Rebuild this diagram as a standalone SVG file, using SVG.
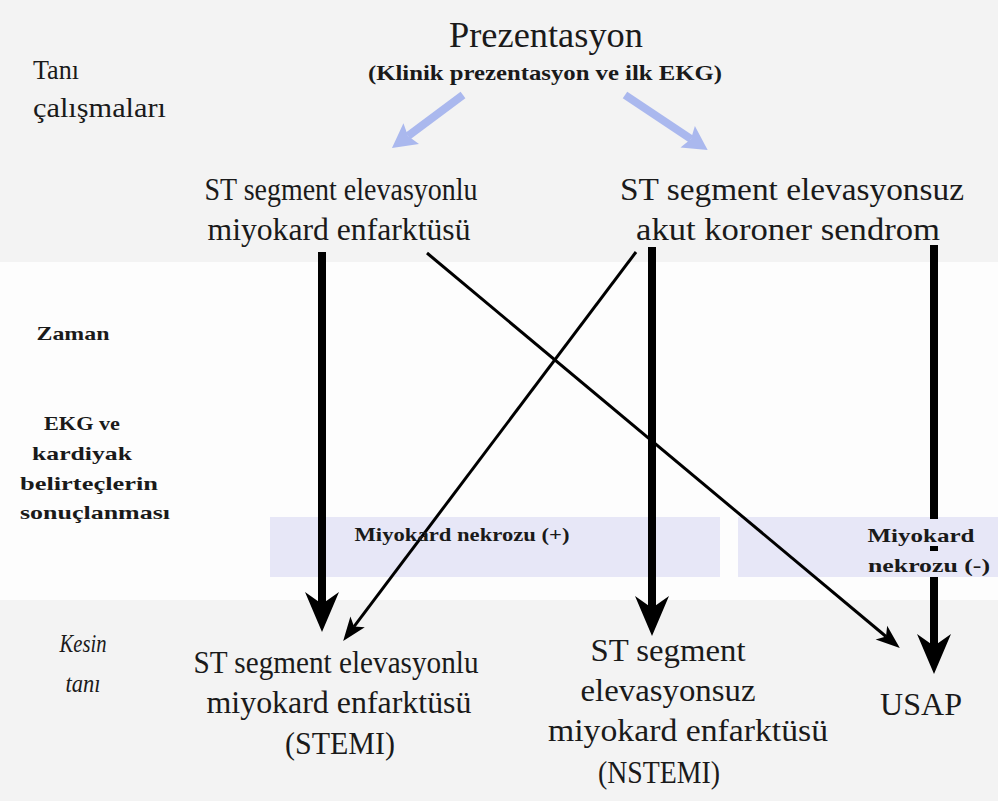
<svg xmlns="http://www.w3.org/2000/svg" width="998" height="801" viewBox="0 0 998 801">
<defs>
<style>
.t{font-family:"Liberation Serif","Times New Roman",serif;fill:#1a1a1a}
.b{font-weight:bold}
.i{font-style:italic}
.thick{stroke:#000;stroke-width:8;fill:none}
.thin{stroke:#000;stroke-width:3;fill:none}
.blue{stroke:#aab8ee;stroke-width:8;fill:none}
.band{fill:#e7e7f7}
</style>
<marker id="hThick" markerUnits="userSpaceOnUse" markerWidth="42" markerHeight="36" refX="12" refY="17" orient="auto" overflow="visible">
<path d="M0,0 L40,17 L0,34 L12,17 z" fill="#000"/>
</marker>
<marker id="hThin" markerUnits="userSpaceOnUse" markerWidth="26" markerHeight="20" refX="6" refY="9" orient="auto" overflow="visible">
<path d="M0,0 L24,9 L0,18 L6,9 z" fill="#000"/>
</marker>
<marker id="hBlue" markerUnits="userSpaceOnUse" markerWidth="26" markerHeight="28" refX="4" refY="13" orient="auto" overflow="visible">
<path d="M0,0 L24,13 L0,26 L4,13 z" fill="#aab8ee"/>
</marker>
</defs>
<rect x="0" y="0" width="998" height="801" fill="#f3f3f3"/>
<rect x="0" y="262" width="998" height="338" fill="#fdfdfd"/>
<rect class="band" x="270" y="517" width="450" height="60"/>
<rect class="band" x="738" y="517" width="260" height="60"/>

<g id="labels-left">
<text class="t" x="33" y="79" font-size="27" textLength="46" lengthAdjust="spacingAndGlyphs">Tanı</text>
<text class="t" x="33" y="117" font-size="27" textLength="133" lengthAdjust="spacingAndGlyphs">çalışmaları</text>
<text class="t b" x="73" y="340" font-size="19" text-anchor="middle" textLength="73" lengthAdjust="spacingAndGlyphs">Zaman</text>
<text class="t b" x="82" y="430" font-size="19" text-anchor="middle" textLength="76" lengthAdjust="spacingAndGlyphs">EKG ve</text>
<text class="t b" x="82" y="460" font-size="19" text-anchor="middle" textLength="100" lengthAdjust="spacingAndGlyphs">kardiyak</text>
<text class="t b" x="89" y="490" font-size="19" text-anchor="middle" textLength="138" lengthAdjust="spacingAndGlyphs">belirteçlerin</text>
<text class="t b" x="95" y="519" font-size="19" text-anchor="middle" textLength="150" lengthAdjust="spacingAndGlyphs">sonuçlanması</text>
<text class="t i" x="83" y="652" font-size="25" text-anchor="middle" textLength="47" lengthAdjust="spacingAndGlyphs">Kesin</text>
<text class="t i" x="83" y="692" font-size="25" text-anchor="middle" textLength="35" lengthAdjust="spacingAndGlyphs">tanı</text>
</g>

<g id="connectors">
<line class="blue" x1="463" y1="95" x2="408" y2="136" marker-end="url(#hBlue)"/>
<line class="blue" x1="625" y1="95" x2="691" y2="139" marker-end="url(#hBlue)"/>
<line class="thick" x1="322" y1="252" x2="322" y2="604" marker-end="url(#hThick)"/>
<line class="thick" x1="652" y1="247" x2="652" y2="608" marker-end="url(#hThick)"/>
<line class="thick" x1="934" y1="245" x2="934" y2="646" marker-end="url(#hThick)"/>
<line class="thin" x1="427" y1="253" x2="886" y2="636.5" marker-end="url(#hThin)"/>
<line class="thin" x1="636" y1="252" x2="354" y2="626.6" marker-end="url(#hThin)"/>
<rect class="band" x="926" y="519" width="16" height="27"/>
<rect class="band" x="926" y="551" width="16" height="26"/>
</g>

<g id="band-labels">
<text class="t b" x="462" y="541" font-size="18" text-anchor="middle" textLength="215" lengthAdjust="spacingAndGlyphs">Miyokard nekrozu (+)</text>
<text class="t b" x="921" y="542" font-size="19" text-anchor="middle" textLength="107" lengthAdjust="spacingAndGlyphs">Miyokard</text>
<text class="t b" x="929" y="572" font-size="19" text-anchor="middle" textLength="122" lengthAdjust="spacingAndGlyphs">nekrozu (-)</text>
</g>

<g id="node-prezentasyon">
<text class="t" x="546" y="47" font-size="36" text-anchor="middle" textLength="194" lengthAdjust="spacingAndGlyphs">Prezentasyon</text>
<text class="t b" x="545" y="80" font-size="21" text-anchor="middle" textLength="354" lengthAdjust="spacingAndGlyphs">(Klinik prezentasyon ve ilk EKG)</text>
</g>

<g id="node-stemi-top">
<text class="t" x="341" y="200" font-size="32" text-anchor="middle" textLength="273" lengthAdjust="spacingAndGlyphs">ST segment elevasyonlu</text>
<text class="t" x="339" y="240" font-size="32" text-anchor="middle" textLength="263" lengthAdjust="spacingAndGlyphs">miyokard enfarktüsü</text>
</g>

<g id="node-nste-acs">
<text class="t" x="792" y="200" font-size="32" text-anchor="middle" textLength="344" lengthAdjust="spacingAndGlyphs">ST segment elevasyonsuz</text>
<text class="t" x="788" y="240" font-size="32" text-anchor="middle" textLength="304" lengthAdjust="spacingAndGlyphs">akut koroner sendrom</text>
</g>

<g id="node-stemi">
<text class="t" x="336" y="673" font-size="32" text-anchor="middle" textLength="285" lengthAdjust="spacingAndGlyphs">ST segment elevasyonlu</text>
<text class="t" x="339" y="713" font-size="32" text-anchor="middle" textLength="265" lengthAdjust="spacingAndGlyphs">miyokard enfarktüsü</text>
<text class="t" x="340" y="754" font-size="32" text-anchor="middle" textLength="110" lengthAdjust="spacingAndGlyphs">(STEMI)</text>
</g>

<g id="node-nstemi">
<text class="t" x="668" y="661" font-size="32" text-anchor="middle" textLength="155" lengthAdjust="spacingAndGlyphs">ST segment</text>
<text class="t" x="668" y="701" font-size="32" text-anchor="middle" textLength="175" lengthAdjust="spacingAndGlyphs">elevasyonsuz</text>
<text class="t" x="688" y="741" font-size="32" text-anchor="middle" textLength="280" lengthAdjust="spacingAndGlyphs">miyokard enfarktüsü</text>
<text class="t" x="659" y="783" font-size="32" text-anchor="middle" textLength="122" lengthAdjust="spacingAndGlyphs">(NSTEMI)</text>
</g>

<g id="node-usap">
<text class="t" x="921" y="715" font-size="32" text-anchor="middle" textLength="82" lengthAdjust="spacingAndGlyphs">USAP</text>
</g>
</svg>
